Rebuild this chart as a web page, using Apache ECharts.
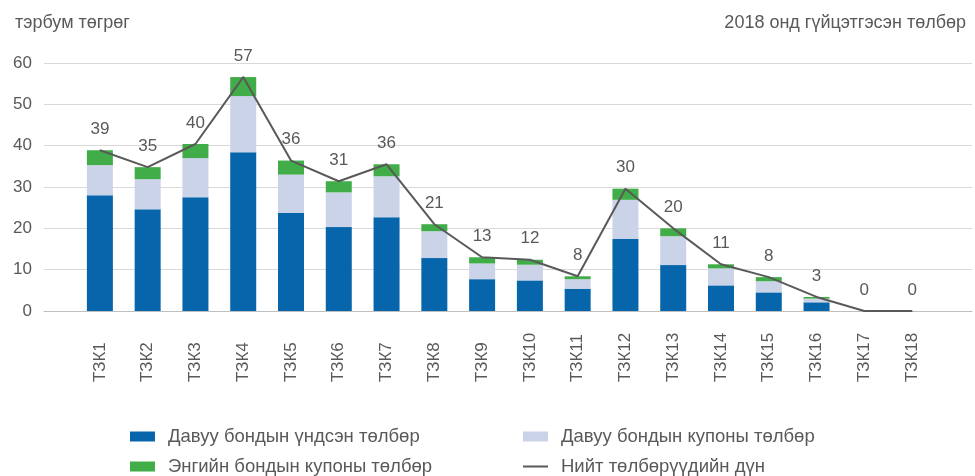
<!DOCTYPE html>
<html>
<head>
<meta charset="utf-8">
<script src="https://cdn.jsdelivr.net/npm/echarts@6/dist/echarts.min.js"></script>
<style>
  html, body { margin: 0; padding: 0; background: #ffffff; }
  #chart { width: 975px; height: 476px; }
</style>
</head>
<body>
<div id="chart"></div>
<script>
// Bond series (ТЗК1 … ТЗК18), billion tögrög
const categories = ['ТЗК1','ТЗК2','ТЗК3','ТЗК4','ТЗК5','ТЗК6','ТЗК7','ТЗК8','ТЗК9',
  'ТЗК10','ТЗК11','ТЗК12','ТЗК13','ТЗК14','ТЗК15','ТЗК16','ТЗК17','ТЗК18'];
const prefPrincipal = [28.0, 24.6, 27.5, 38.4, 23.7, 20.3, 22.7, 12.8, 7.7, 7.4, 5.4, 17.4, 11.1, 6.2, 4.5, 2.1, 0, 0];
const prefCoupon    = [7.3, 7.3, 9.5, 13.6, 9.3, 8.4, 9.9, 6.5, 3.8, 3.8, 2.3, 9.5, 7.0, 4.1, 2.7, 0.9, 0, 0];
const ordCoupon     = [3.6, 2.9, 3.4, 4.6, 3.4, 2.7, 2.9, 1.7, 1.5, 1.2, 0.7, 2.7, 1.9, 1.0, 1.0, 0.4, 0, 0];
const yTicks = [0, 10, 20, 30, 40, 50, 60];

const seriesNames = [
  'Давуу бондын үндсэн төлбөр',
  'Давуу бондын купоны төлбөр',
  'Энгийн бондын купоны төлбөр',
  'Нийт төлбөрүүдийн дүн'
];

// total payment per bond = sum of the three stacked parts
const totals = categories.map((_, i) =>
  Math.round((prefPrincipal[i] + prefCoupon[i] + ordCoupon[i]) * 10) / 10);

const FONT = "'Liberation Sans', Arial, sans-serif";
const TEXT = '#595959';
const FS = 17;
const FS_TITLE = 18;
const FS_LEGEND = 18.5;

const chart = echarts.init(document.getElementById('chart'), null, { renderer: 'canvas' });

function legendAt(name, left, top, extra) {
  return Object.assign({
    data: [name],
    left: left, top: top,
    padding: 0,
    itemWidth: 25, itemHeight: 10,
    icon: 'rect',
    selectedMode: false,
    textStyle: { color: TEXT, fontSize: FS_LEGEND, fontFamily: FONT, padding: [0, 0, 0, 8] }
  }, extra || {});
}

chart.setOption({
  animation: false,
  backgroundColor: '#ffffff',
  textStyle: { fontFamily: FONT },
  title: [
    { text: 'тэрбум төгрөг', left: 10, top: 9,
      textStyle: { color: TEXT, fontSize: FS_TITLE, fontWeight: 'normal', fontFamily: FONT } },
    { text: '2018 онд гүйцэтгэсэн төлбөр', right: 4, top: 9,
      textStyle: { color: TEXT, fontSize: FS_TITLE, fontWeight: 'normal', fontFamily: FONT } }
  ],
  legend: [
    legendAt(seriesNames[0], 130, 427),
    legendAt(seriesNames[1], 523, 427),
    legendAt(seriesNames[2], 130, 457),
    legendAt(seriesNames[3], 523, 457, { itemHeight: 2 })
  ],
  grid: [
    // full-width frame carrying the value axis and gridlines
    { left: 44, right: 3, top: 63, bottom: 165 },
    // inner band where the bond categories sit
    { left: 76, right: 39, top: 63, bottom: 165 }
  ],
  xAxis: [
    { gridIndex: 0, type: 'category', data: [''],
      axisLine: { show: true, lineStyle: { color: '#bfbfbf', width: 1 } },
      axisTick: { show: false }, axisLabel: { show: false } },
    { gridIndex: 1, type: 'category', data: categories,
      axisLine: { show: false }, axisTick: { show: false },
      axisLabel: { interval: 0, rotate: 90, align: 'left', verticalAlign: 'middle',
        margin: 71, color: TEXT, fontSize: FS, fontFamily: FONT } }
  ],
  yAxis: [
    { gridIndex: 0, type: 'value', min: yTicks[0], max: yTicks[yTicks.length - 1], interval: 10,
      axisLine: { show: false }, axisTick: { show: false },
      axisLabel: { margin: 12, color: TEXT, fontSize: FS, fontFamily: FONT },
      splitLine: { show: true, lineStyle: { color: '#d9d9d9', width: 1 } } },
    { gridIndex: 1, type: 'value', min: yTicks[0], max: yTicks[yTicks.length - 1], interval: 10,
      show: false, splitLine: { show: false } }
  ],
  series: [
    { name: seriesNames[0], type: 'bar', stack: 'pay', xAxisIndex: 1, yAxisIndex: 1,
      barWidth: 26, itemStyle: { color: '#0766ab' }, data: prefPrincipal },
    { name: seriesNames[1], type: 'bar', stack: 'pay', xAxisIndex: 1, yAxisIndex: 1,
      barWidth: 26, itemStyle: { color: '#cbd3e8' }, data: prefCoupon },
    { name: seriesNames[2], type: 'bar', stack: 'pay', xAxisIndex: 1, yAxisIndex: 1,
      barWidth: 26, itemStyle: { color: '#41ad49' }, data: ordCoupon },
    { name: seriesNames[3], type: 'line', xAxisIndex: 1, yAxisIndex: 1,
      symbol: 'circle', symbolSize: 1, showSymbol: true, z: 5,
      itemStyle: { color: '#595959' },
      lineStyle: { color: '#595959', width: 2 },
      label: { show: true, position: 'top', distance: 12, color: TEXT, fontSize: FS, fontFamily: FONT,
        formatter: p => String(Math.round(p.value)) },
      labelLayout: { hideOverlap: false },
      data: totals }
  ]
});
</script>
</body>
</html>
